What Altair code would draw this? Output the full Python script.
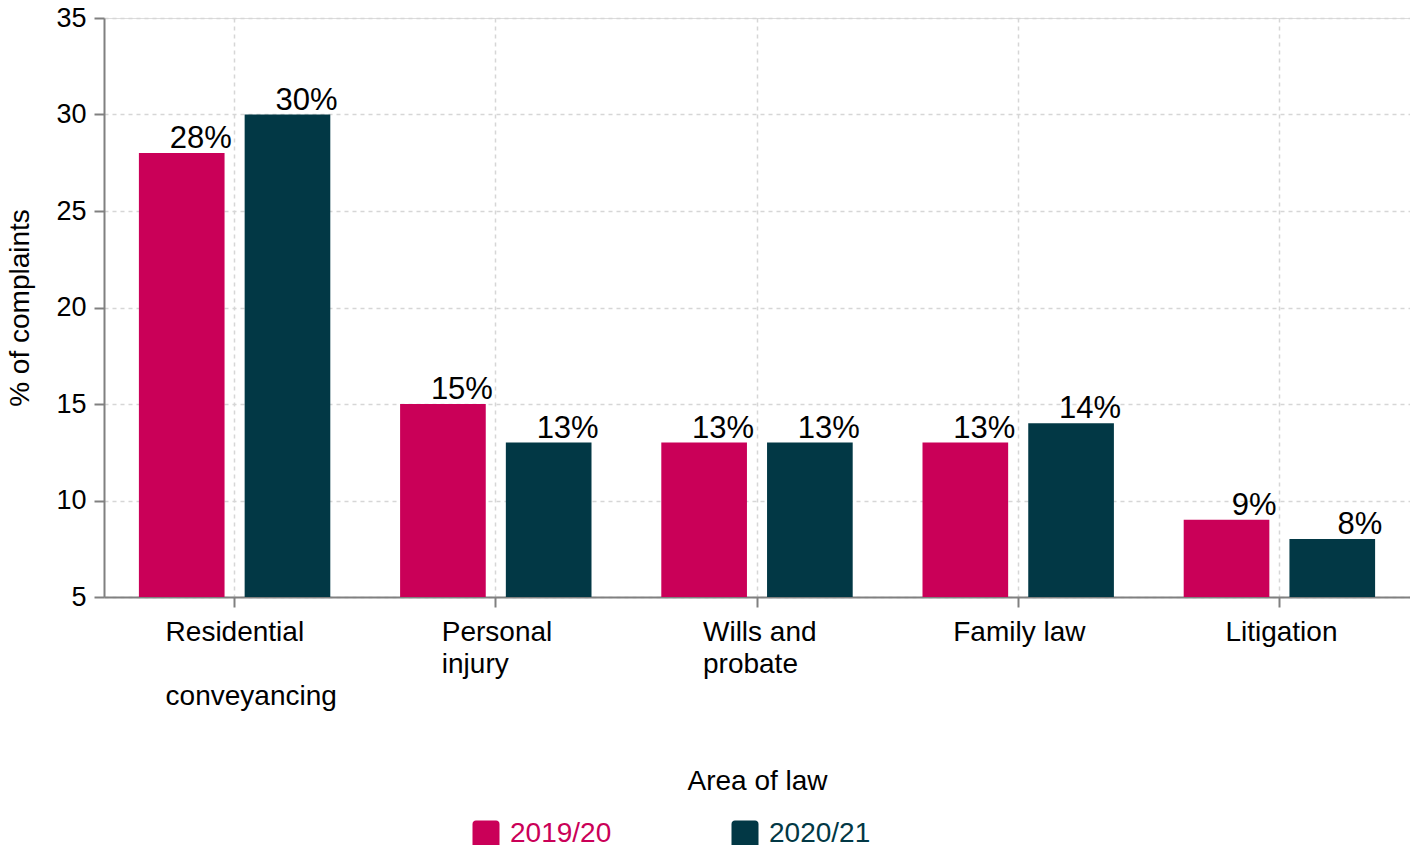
import altair as alt
import pandas as pd

categories = ["Residential conveyancing", "Personal injury", "Wills and probate", "Family law", "Litigation"]
years = ["2019/20", "2020/21"]
values_1920 = [28, 15, 13, 13, 9]
values_2021 = [30, 13, 13, 14, 8]
colors = ["#CA0058", "#023845"]

label_lines = [
    ["Residential", "\u200b", "conveyancing"],
    ["Personal", "injury"],
    ["Wills and", "probate"],
    ["Family law"],
    ["Litigation"],
]

rows = []
for c, a, b in zip(categories, values_1920, values_2021):
    rows.append({"area": c, "year": years[0], "pct": a, "label": f"{a}%"})
    rows.append({"area": c, "year": years[1], "pct": b, "label": f"{b}%"})
df = pd.DataFrame(rows)

expr = "''"
for c, lines in reversed(list(zip(categories, label_lines))):
    arr = "[" + ",".join(f"'{l}'" for l in lines) + "]"
    expr = f"datum.value == '{c}' ? {arr} : ({expr})"

FONT = "Liberation Sans"

x_enc = alt.X(
    "area:N",
    sort=categories,
    title="Area of law",
    scale=alt.Scale(paddingInner=0, paddingOuter=0),
    axis=alt.Axis(
        labelExpr=expr,
        labelAngle=0,
        labelAlign="left",
        labelBaseline="top",
        labelOffset={
            "condition": [
                {"test": f"datum.value == '{categories[0]}'", "value": -69},
                {"test": f"datum.value == '{categories[3]}'", "value": -65},
            ],
            "value": -54,
        },
        labelLineHeight=32,
        labelPadding=11,
        labelFontSize=28,
        labelColor="black",
        labelFont=FONT,
        tickSize=10,
        tickColor="#808080",
        tickWidth=2,
        domainColor="#808080",
        domainWidth=2,
        grid=True,
        gridDash=[4, 4],
        gridColor="#d6d6d6",
        gridWidth=1.5,
        titleFontSize=28,
        titleFont=FONT,
        titleFontWeight="normal",
        titleColor="black",
        titlePadding=57,
    ),
)

y_enc = alt.Y(
    "pct:Q",
    title="% of complaints",
    scale=alt.Scale(domain=[5, 35], zero=False, nice=False),
    axis=alt.Axis(
        values=[5, 10, 15, 20, 25, 30, 35],
        labelFontSize=27,
        labelFont=FONT,
        labelColor="black",
        labelPadding=8,
        tickSize=10,
        tickColor="#808080",
        tickWidth=2,
        domainColor="#808080",
        domainWidth=2,
        gridDash=[4, 4],
        gridColor="#d6d6d6",
        gridWidth=1.5,
        titleFontSize=28,
        titleFont=FONT,
        titleFontWeight="normal",
        titleColor="black",
        titlePadding=21,
    ),
)

xoff = alt.XOffset("year:N", sort=years, scale=alt.Scale(paddingInner=0.19, paddingOuter=0.33))

rounded = "M-0.75,-1H0.75A0.25,0.25,0,0,1,1,-0.75V0.75A0.25,0.25,0,0,1,0.75,1H-0.75A0.25,0.25,0,0,1,-1,0.75V-0.75A0.25,0.25,0,0,1,-0.75,-1Z"

color_enc = alt.Color(
    "year:N",
    sort=years,
    scale=alt.Scale(domain=years, range=colors),
    legend=alt.Legend(
        title=None,
        orient="none",
        legendX=368,
        legendY=802,
        direction="horizontal",
        symbolType=rounded,
        symbolSize=729,
        symbolStrokeWidth=0,
        symbolOpacity=1,
        labelFontSize=28,
        labelFont=FONT,
        labelOffset=10,
        columnPadding=119,
        padding=0,
        labelColor=alt.ExprRef(expr=f"datum.label == '{years[0]}' ? '{colors[0]}' : '{colors[1]}'"),
    ),
)

bars = alt.Chart(df).mark_bar().encode(
    x=x_enc,
    y=y_enc,
    y2=alt.datum(5),
    xOffset=xoff,
    color=color_enc,
)

text = alt.Chart(df).mark_text(
    align="right",
    baseline="alphabetic",
    dx=50,
    dy=-5,
    fontSize=31,
    font=FONT,
    color="black",
).encode(
    x=alt.X("area:N", sort=categories),
    y=alt.Y("pct:Q"),
    xOffset=alt.XOffset("year:N", sort=years),
    text="label:N",
)

chart = (
    alt.layer(bars, text)
    .properties(
        width=1306,
        height=579,
        autosize=alt.AutoSizeParams(type="none"),
        padding={"left": 96, "top": 10, "right": 0, "bottom": 260},
    )
    .configure_view(strokeWidth=0)
    .configure(background="white")
)

chart.save("out.html", embed_options={"renderer": "svg", "actions": False})
